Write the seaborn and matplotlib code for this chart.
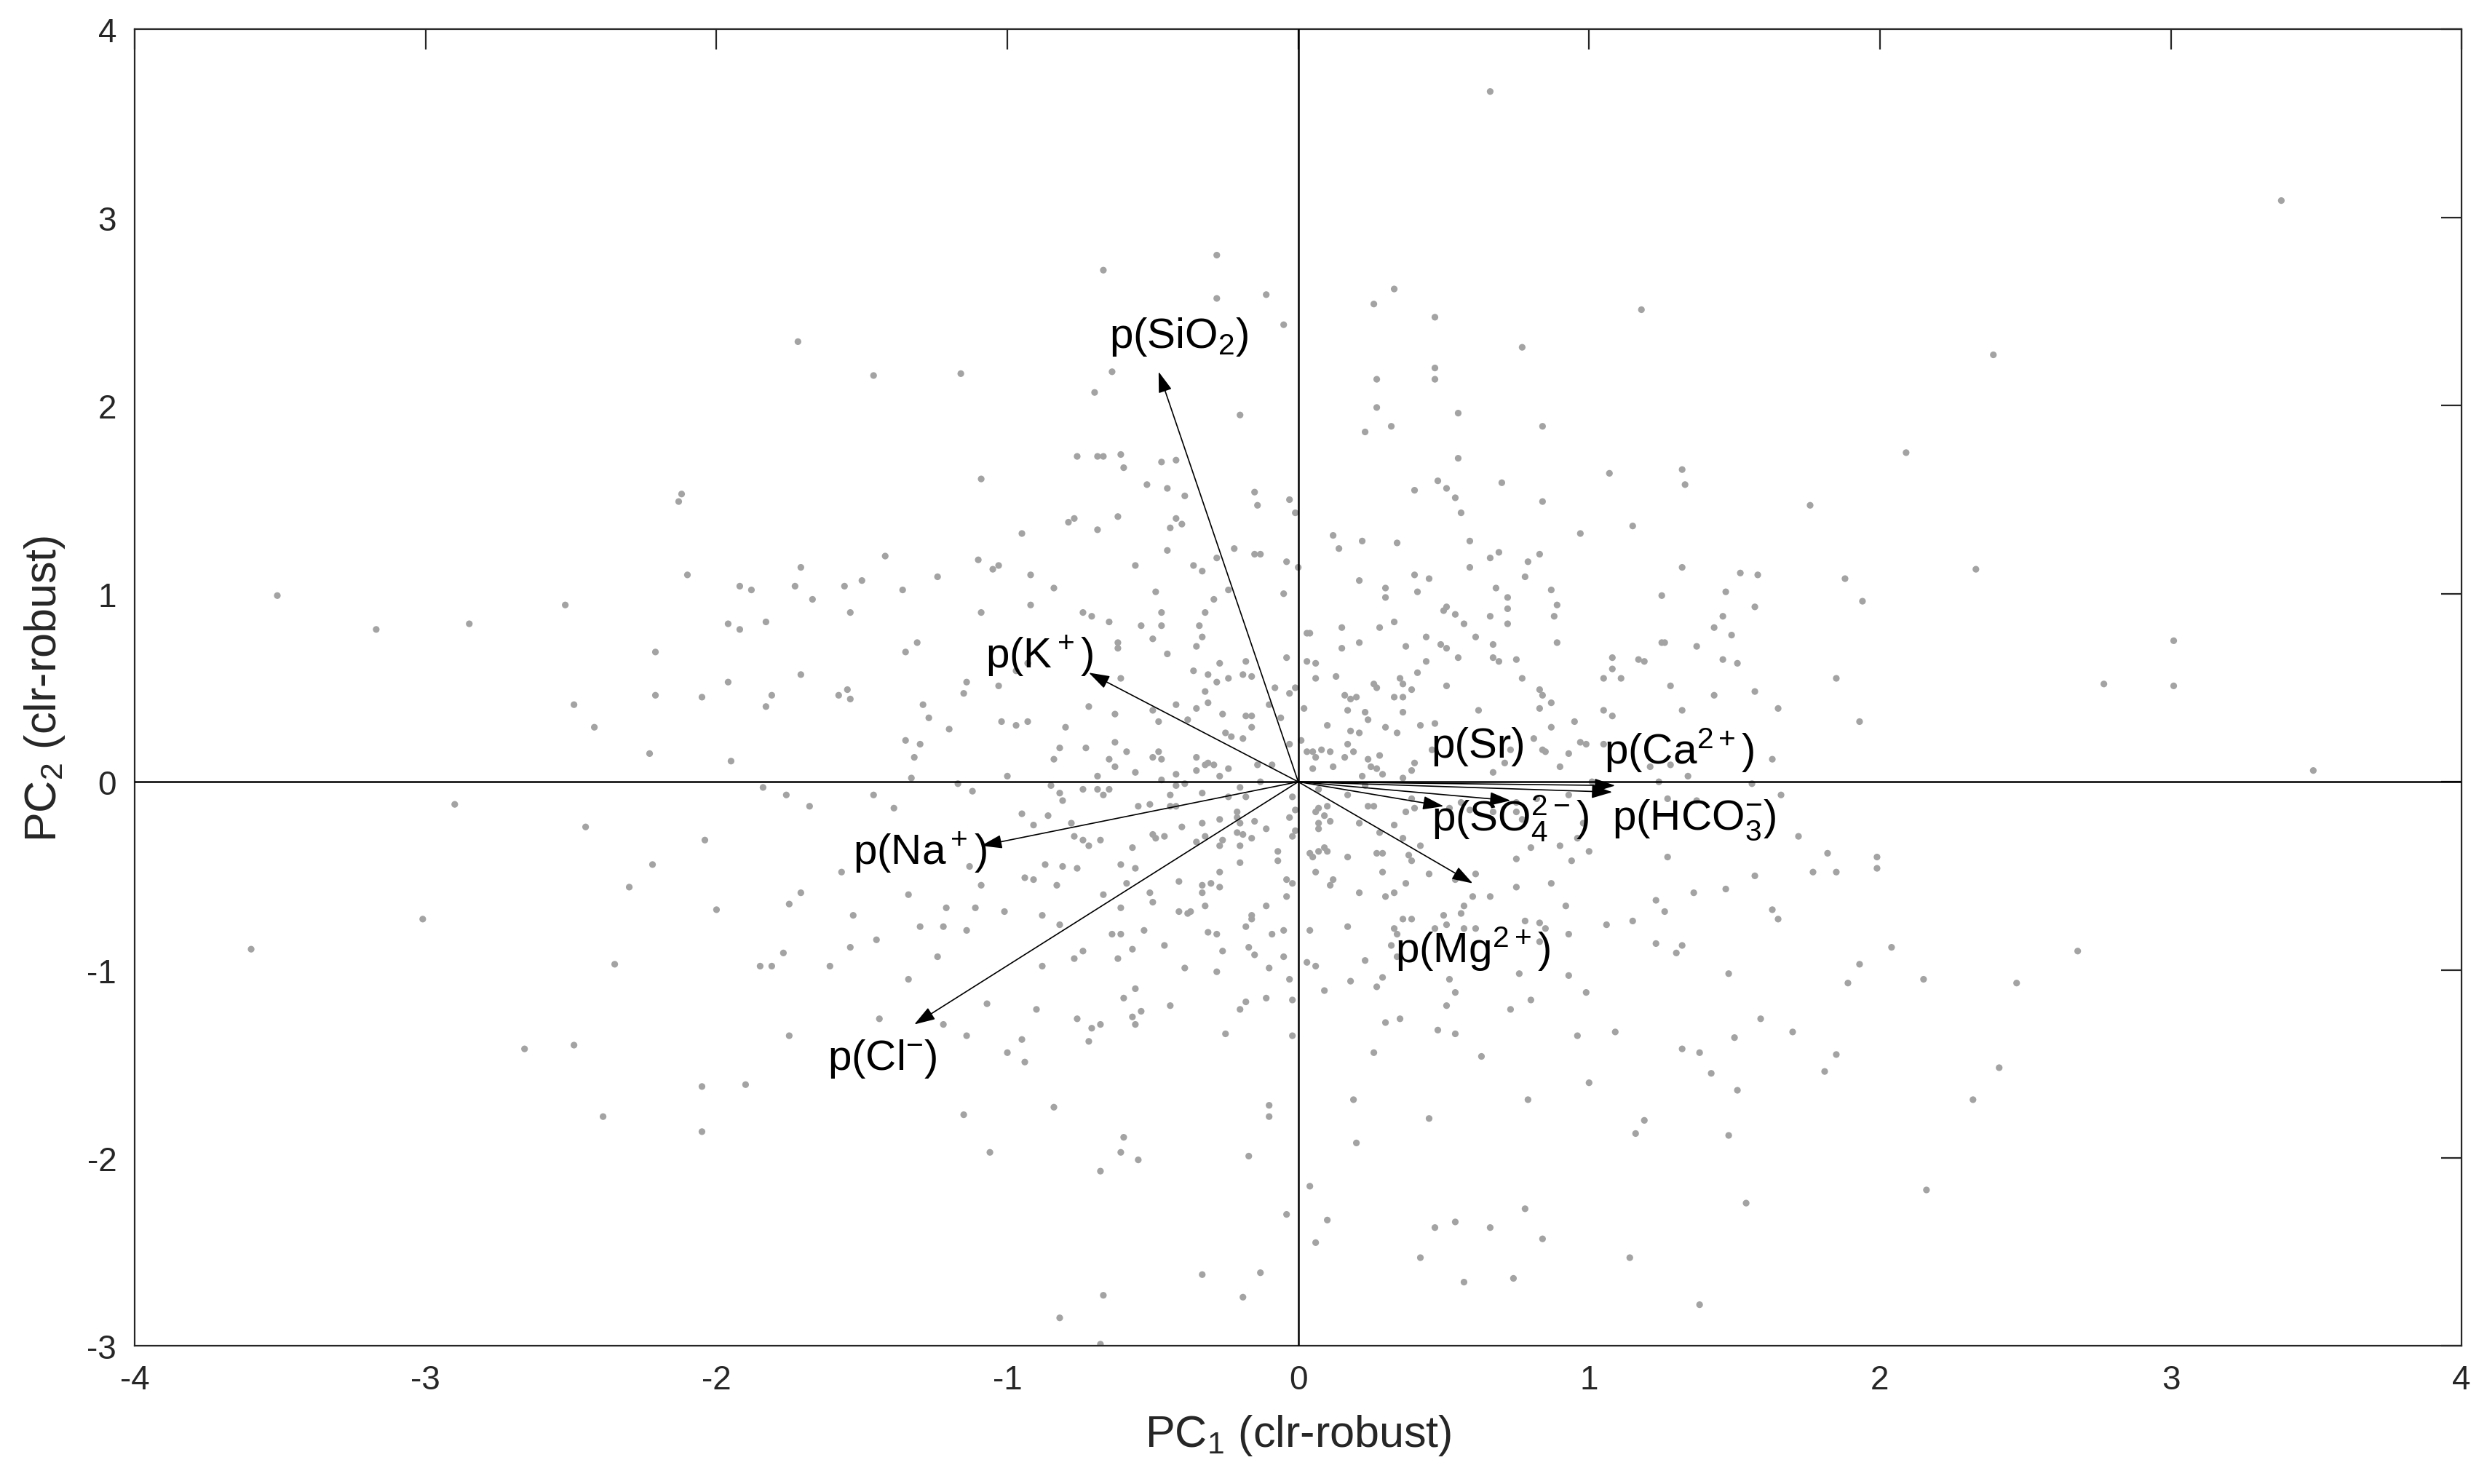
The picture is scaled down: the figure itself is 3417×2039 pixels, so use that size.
import matplotlib
matplotlib.use("Agg")
import matplotlib.pyplot as plt
import seaborn as sns
import pandas as pd

# ---- sample scores (PC1, PC2), grouped by region ----
upper_left = [(-0.67,2.72),(-1.72,2.34),(-1.46,2.16),(-1.16,2.17),(-0.70,2.07),(-0.76,1.73),(-0.69,1.73),(-0.67,1.73),
    (-1.09,1.61),(-0.77,1.40),(-0.79,1.38),(-0.69,1.34),(-0.95,1.32),(-1.42,1.20),(-1.10,1.18),(-1.05,1.13),(-1.03,1.15),
    (-0.92,1.10),(-1.71,1.14),(-1.92,1.04),(-1.88,1.02),(-1.73,1.04),(-1.56,1.04),(-1.50,1.07),(-1.36,1.02),(-1.24,1.09),
    (-0.84,1.03),(-1.67,0.97),(-1.54,0.90),(-1.09,0.90),(-0.92,0.94),(-0.74,0.90),(-0.71,0.88)]

upper_center = [(-0.28,2.80),(-0.28,2.57),(-0.11,2.59),(-0.05,2.43),(0.33,2.62),(0.26,2.54),(0.47,2.47),(-0.64,2.18),
    (0.47,2.20),(0.27,2.14),(0.47,2.14),(-0.20,1.95),(0.27,1.99),(0.55,1.96),(0.23,1.86),(0.32,1.89),(-0.61,1.74),(-0.60,1.67),
    (-0.47,1.70),(-0.42,1.71),(0.55,1.72),(-0.52,1.58),(-0.45,1.56),(-0.39,1.52),(-0.15,1.54),(-0.14,1.47),(-0.03,1.50),
    (-0.01,1.43),(0.48,1.60),(0.40,1.55),(0.51,1.56),(0.54,1.51),(0.56,1.43),(-0.62,1.41),(-0.42,1.40),(-0.40,1.37),(-0.44,1.35),
    (0.12,1.31),(0.14,1.24),(0.22,1.28),(0.34,1.27),(0.59,1.28),(0.59,1.14),(-0.45,1.23),(-0.56,1.15),(-0.36,1.15),(-0.33,1.12),
    (-0.28,1.19),(-0.22,1.24),(-0.15,1.21),(-0.13,1.21),(-0.04,1.17),(0.00,1.14),(0.21,1.07),(0.40,1.10),(0.45,1.08),(0.30,1.03),
    (0.41,1.01),(0.30,0.98),(-0.49,1.01),(-0.24,1.02),(-0.29,0.97),(-0.05,1.00),(-0.47,0.90),(-0.32,0.90),(0.51,0.93),(0.50,0.91),
    (0.54,0.89)]

upper_right = [(1.18,2.51),(0.77,2.31),(0.84,1.89),(0.70,1.59),(1.07,1.64),(1.32,1.66),(1.33,1.58),(1.76,1.47),(0.84,1.49),
    (0.97,1.32),(1.15,1.36),(0.66,1.19),(0.69,1.22),(0.79,1.17),(0.83,1.21),(0.78,1.09),(1.32,1.14),(1.52,1.11),(1.58,1.10),
    (1.88,1.08),(0.68,1.03),(0.72,0.98),(0.87,1.02),(0.89,0.94),(0.72,0.92),(1.25,0.99),(1.47,1.01),(1.57,0.93),(1.46,0.88),
    (0.66,0.88),(0.88,0.88),(1.94,0.96)]

middle_left = [(-1.83,0.85),(-1.92,0.81),(-1.96,0.84),(-1.96,0.53),(-1.71,0.57),(-1.81,0.46),(-1.83,0.40),(-1.58,0.46),
    (-1.55,0.49),(-1.54,0.44),(-1.31,0.74),(-1.35,0.69),(-1.14,0.53),(-1.15,0.47),(-1.03,0.51),(-0.97,0.59),(-0.93,0.63),
    (-1.29,0.41),(-1.27,0.34),(-1.20,0.28),(-1.02,0.32),(-0.97,0.30),(-0.93,0.32),(-0.80,0.29),(-0.72,0.40),(-1.35,0.22),
    (-1.30,0.20),(-1.32,0.13),(-0.82,0.18),(-0.73,0.18),(-0.84,0.12),(-1.95,0.11),(-1.33,0.02),(-1.17,-0.01),(-1.00,0.03),
    (-0.69,0.03),(-1.84,-0.03),(-1.76,-0.07),(-1.68,-0.13),(-1.46,-0.07),(-1.39,-0.14),(-1.12,-0.05),(-0.85,-0.02),(-0.82,-0.06),
    (-0.81,-0.10),(-0.74,-0.04),(-0.69,-0.04),(-0.67,-0.07),(-0.95,-0.17),(-0.86,-0.18),(-0.91,-0.23),(-0.78,-0.22),(-0.77,-0.29),
    (-0.74,-0.31),(-0.72,-0.34),(-0.68,-0.31),(-1.13,-0.45),(-0.87,-0.44),(-0.81,-0.45),(-0.76,-0.46),(-0.94,-0.51),(-0.91,-0.52),
    (-0.83,-0.55),(-1.09,-0.55),(-1.57,-0.48),(-1.71,-0.59),(-1.75,-0.65),(-1.34,-0.60),(-1.21,-0.67),(-1.11,-0.67),(-1.01,-0.69),
    (-0.88,-0.71),(-0.67,-0.60),(-1.53,-0.71),(-1.30,-0.77),(-1.22,-0.77),(-1.14,-0.79),(-0.82,-0.76),(-1.45,-0.84),(-1.54,-0.88),
    (-1.77,-0.91),(-1.85,-0.98),(-1.81,-0.98),(-1.61,-0.98),(-1.24,-0.93),(-0.74,-0.90),(-0.77,-0.94),(-0.88,-0.98),(-1.34,-1.05)]

middle_center = [(-0.65,0.85),(-0.54,0.83),(-0.47,0.83),(-0.34,0.83),(-0.50,0.76),(-0.33,0.77),(-0.62,0.74),(-0.62,0.71),
    (-0.35,0.72),(-0.45,0.68),(-0.27,0.63),(-0.18,0.64),(-0.04,0.66),(0.03,0.79),(0.04,0.79),(0.15,0.82),(0.28,0.82),(0.33,0.85),
    (0.21,0.74),(0.15,0.71),(0.44,0.77),(0.37,0.72),(0.49,0.73),(0.51,0.71),(0.57,0.84),(0.61,0.77),(0.55,0.66),(0.44,0.64),
    (0.41,0.58),(0.03,0.64),(0.06,0.63),(-0.61,0.55),(-0.36,0.59),(-0.31,0.57),(-0.28,0.53),(-0.24,0.55),(-0.19,0.57),(-0.16,0.56),
    (0.06,0.55),(0.13,0.56),(0.26,0.52),(0.27,0.50),(0.35,0.55),(0.36,0.52),(0.39,0.49),(0.51,0.51),(-0.08,0.50),(-0.01,0.50),
    (-0.03,0.47),(-0.32,0.48),(-0.31,0.42),(-0.42,0.41),(-0.35,0.39),(-0.50,0.38),(-0.63,0.36),(-0.48,0.32),(-0.26,0.36),
    (-0.18,0.35),(-0.16,0.35),(-0.10,0.41),(-0.06,0.34),(0.02,0.39),(0.16,0.46),(0.18,0.44),(0.20,0.45),(0.33,0.45),(0.36,0.45),
    (0.17,0.38),(0.23,0.37),(0.24,0.33),(0.36,0.37),(0.62,0.38),(0.10,0.30),(0.30,0.29),(0.34,0.26),(0.18,0.27),(0.21,0.26),
    (0.42,0.30),(0.47,0.31),(-0.25,0.26),(-0.23,0.24),(-0.19,0.23),(-0.16,0.29),(-0.38,0.33),(-0.63,0.21),(-0.59,0.16),(-0.48,0.16),
    (-0.50,0.13),(-0.47,0.12),(-0.65,0.12),(-0.63,0.08),(-0.56,0.05),(-0.35,0.13),(-0.35,0.06),(-0.32,0.09),(-0.31,0.10),
    (-0.29,0.09),(-0.24,0.07),(-0.27,0.03),(-0.42,0.04),(-0.47,0.01),(-0.14,0.09),(-0.09,0.09),(-0.03,0.20),(0.01,0.22),(0.17,0.20),
    (0.19,0.16),(0.03,0.16),(0.05,0.16),(0.08,0.17),(0.11,0.16),(0.06,0.13),(0.16,0.13),(0.24,0.12),(0.28,0.14),(0.40,0.10),
    (0.46,0.17),(0.05,0.07),(0.12,0.08),(0.25,0.08),(0.27,0.07),(0.29,0.04),(0.39,0.06),(0.22,0.03),(0.36,0.02),(-0.13,0.00),
    (-0.65,-0.04),(-0.42,-0.02),(-0.39,-0.01),(-0.20,-0.03),(-0.33,-0.06),(-0.44,-0.07),(-0.18,-0.08),(-0.24,-0.08),(-0.02,-0.08),
    (0.07,-0.04),(0.17,-0.07),(0.23,-0.02),(-0.55,-0.13),(-0.51,-0.12),(-0.44,-0.13),(-0.42,-0.13),(-0.21,-0.16),(-0.21,-0.19),
    (-0.20,-0.22),(-0.15,-0.21),(-0.27,-0.20),(-0.33,-0.22),(-0.40,-0.24),(-0.03,-0.19),(-0.01,-0.15),(0.07,-0.14),(0.06,-0.16),
    (0.09,-0.18),(0.10,-0.13),(0.11,-0.21),(0.07,-0.22),(0.07,-0.25),(0.21,-0.22),(0.24,-0.13),(0.26,-0.13),(0.33,-0.23),
    (0.37,-0.16),(0.40,-0.14),(0.39,-0.09),(0.52,-0.14),(0.56,-0.11),(0.59,-0.15),(0.36,-0.30),(0.42,-0.34),(0.28,-0.27),
    (-0.50,-0.28),(-0.49,-0.30),(-0.46,-0.29),(-0.21,-0.27),(-0.19,-0.28),(-0.16,-0.30),(-0.11,-0.25),(-0.01,-0.26),(-0.02,-0.29),
    (-0.32,-0.29),(-0.35,-0.32),(-0.26,-0.31),(-0.27,-0.34),(-0.20,-0.34),(-0.57,-0.35),(-0.07,-0.37),(-0.07,-0.42),(0.04,-0.38),
    (0.05,-0.40),(0.07,-0.37),(0.09,-0.35),(0.10,-0.37),(0.17,-0.40),(0.27,-0.38),(0.29,-0.38),(0.38,-0.39),(0.39,-0.42),
    (-0.61,-0.44),(-0.56,-0.46),(-0.20,-0.43),(-0.27,-0.48),(0.06,-0.48),(0.29,-0.48),(0.45,-0.49),(0.61,-0.49),(-0.59,-0.54),
    (-0.41,-0.53),(-0.33,-0.55),(-0.30,-0.54),(-0.27,-0.56),(-0.04,-0.52),(-0.02,-0.54),(0.12,-0.52),(0.11,-0.55),(0.37,-0.54),
    (0.54,-0.52),(-0.51,-0.59),(-0.33,-0.59),(-0.50,-0.64),(-0.04,-0.61),(0.21,-0.59),(0.30,-0.61),(0.33,-0.59),(0.60,-0.61),
    (-0.61,-0.67),(-0.32,-0.66),(-0.11,-0.66),(0.57,-0.66),(0.56,-0.70),(-0.41,-0.69),(-0.38,-0.70),(-0.37,-0.69),(-0.16,-0.71),
    (-0.16,-0.73),(0.36,-0.73),(0.39,-0.73),(0.50,-0.71),(0.51,-0.76),(-0.53,-0.79),(-0.64,-0.81),(-0.61,-0.81),(-0.18,-0.77),
    (-0.31,-0.80),(-0.28,-0.81),(-0.09,-0.81),(-0.05,-0.79),(0.04,-0.79),(0.17,-0.77),(0.33,-0.78),(0.34,-0.81),(0.47,-0.78),
    (0.57,-0.78),(0.61,-0.78),(0.32,-0.87),(-0.46,-0.87),(-0.57,-0.89),(-0.26,-0.90),(-0.17,-0.88),(-0.15,-0.92),(-0.05,-0.93),
    (-0.62,-0.94),(0.34,-0.93),(0.23,-0.95),(-0.39,-0.99),(-0.28,-1.01),(-0.10,-0.99),(0.03,-0.96),(0.06,-0.98),(-0.03,-1.05),
    (0.29,-1.04),(0.52,-1.05),(0.18,-1.06)]

middle_right = [(0.72,0.84),(0.89,0.74),(0.67,0.73),(0.67,0.66),(0.69,0.64),(0.75,0.65),(0.77,0.55),(0.83,0.49),(0.84,0.46),
    (0.87,0.42),(0.83,0.39),(0.87,0.29),(0.95,0.32),(0.81,0.23),(0.84,0.17),(0.85,0.16),(0.93,0.15),(0.97,0.21),(0.99,0.20),
    (1.05,0.20),(0.90,0.08),(0.71,0.10),(0.67,0.05),(0.73,0.17),(1.08,0.66),(1.08,0.60),(1.05,0.55),(1.11,0.55),(1.17,0.65),
    (1.19,0.64),(1.25,0.74),(1.26,0.74),(1.37,0.72),(1.43,0.82),(1.49,0.78),(1.46,0.65),(1.51,0.63),(1.28,0.51),(1.43,0.46),
    (1.57,0.48),(1.65,0.39),(1.32,0.38),(1.05,0.38),(1.08,0.35),(1.85,0.55),(1.93,0.32),(1.63,0.12),(1.21,0.08),(1.28,0.09),
    (1.34,0.03),(1.24,0.00),(1.01,0.00),(1.56,-0.01),(1.66,-0.07),(0.93,-0.07),(0.82,-0.09),(0.75,-0.11),(0.67,-0.16),(0.75,-0.16),
    (0.77,-0.20),(0.98,-0.22),(0.96,-0.30),(1.00,-0.37),(0.90,-0.34),(0.80,-0.35),(0.75,-0.41),(0.94,-0.42),(1.27,-0.09),
    (1.37,-0.10),(1.72,-0.29),(1.82,-0.38),(1.77,-0.48),(1.85,-0.48),(1.27,-0.40),(1.57,-0.50),(0.87,-0.54),(0.75,-0.56),
    (0.66,-0.61),(1.47,-0.57),(1.36,-0.59),(1.23,-0.63),(1.26,-0.69),(1.63,-0.68),(1.65,-0.73),(0.92,-0.66),(1.15,-0.74),
    (1.06,-0.76),(0.78,-0.74),(0.83,-0.75),(0.85,-0.78),(0.93,-0.81),(0.83,-0.85),(1.23,-0.86),(1.32,-0.87),(1.30,-0.91),
    (1.93,-0.97),(1.48,-1.02),(0.76,-1.02),(0.93,-1.03),(1.89,-1.07)]

lower_left = [(-1.07,-1.18),(-0.90,-1.21),(-0.76,-1.26),(-0.71,-1.31),(-0.68,-1.29),(-0.72,-1.38),(-1.44,-1.26),(-1.22,-1.29),
    (-1.14,-1.35),(-0.95,-1.37),(-1.00,-1.44),(-0.94,-1.49),(-1.75,-1.35),(-1.90,-1.61),(-1.15,-1.77),(-0.84,-1.73),(-1.06,-1.97),
    (-0.68,-2.07),(-0.67,-2.73),(-0.82,-2.85),(-0.68,-2.99)]

lower_center = [(-0.56,-1.10),(-0.60,-1.15),(-0.54,-1.22),(-0.57,-1.25),(-0.56,-1.29),(-0.44,-1.19),(-0.20,-1.21),(-0.18,-1.17),
    (-0.11,-1.15),(-0.02,-1.16),(-0.25,-1.34),(-0.02,-1.35),(0.09,-1.11),(0.27,-1.09),(0.54,-1.12),(0.51,-1.19),(0.30,-1.28),
    (0.35,-1.26),(0.48,-1.32),(0.54,-1.34),(0.26,-1.44),(0.63,-1.46),(-0.10,-1.72),(-0.10,-1.78),(-0.60,-1.89),(-0.61,-1.97),
    (-0.55,-2.01),(-0.17,-1.99),(0.19,-1.69),(0.45,-1.79),(0.20,-1.92),(0.04,-2.15),(-0.04,-2.30),(0.10,-2.33),(0.06,-2.45),
    (0.47,-2.37),(0.54,-2.34),(0.42,-2.53),(0.57,-2.66),(-0.33,-2.62),(-0.13,-2.61),(-0.19,-2.74)]

lower_right = [(0.73,-1.21),(0.80,-1.16),(0.99,-1.12),(0.96,-1.35),(1.09,-1.33),(1.59,-1.26),(1.70,-1.33),(1.50,-1.36),
    (1.32,-1.42),(1.38,-1.44),(1.85,-1.45),(1.81,-1.54),(1.42,-1.55),(1.51,-1.64),(1.00,-1.60),(0.79,-1.69),(1.19,-1.80),
    (1.16,-1.87),(1.48,-1.88),(1.54,-2.24),(0.78,-2.27),(0.66,-2.37),(0.84,-2.43),(1.14,-2.53),(0.74,-2.64),(1.38,-2.78)]

outer_left = [(-3.51,0.99),(-3.17,0.81),(-2.85,0.84),(-2.90,-0.12),(-3.01,-0.73),(-3.60,-0.89),(-2.66,-1.42),(-2.39,-1.78),
    (-2.49,-1.40),(-2.35,-0.97),(-2.45,-0.24),(-2.52,0.94),(-2.49,0.41),(-2.42,0.29),(-2.30,-0.56),(-2.22,-0.44),(-2.23,0.15),
    (-2.21,0.46),(-2.21,0.69),(-2.13,1.49),(-2.12,1.53),(-2.10,1.10),(-2.05,0.45),(-2.04,-0.31),(-2.00,-0.68),(-2.05,-1.62),
    (-2.05,-1.86)]

outer_right = [(2.09,1.75),(2.39,2.27),(2.33,1.13),(3.38,3.09),(3.01,0.75),(3.01,0.51),(2.77,0.52),(3.49,0.06),(2.68,-0.90),
    (2.47,-1.07),(2.41,-1.52),(2.32,-1.69),(2.16,-2.17),(2.15,-1.05),(2.04,-0.88),(1.99,-0.40),(1.99,-0.46),(0.66,3.67)]

# ---- variable loadings (arrow tips) and label positions ----
var_labels = ['p(SiO$_2$)', 'p(K$^+$)', 'p(Na$^+$)', 'p(Cl$^{-}$)', 'p(Sr)',
              'p(SO$_4^{2-}$)', 'p(Mg$^{2+}$)', 'p(Ca$^{2+}$)', 'p(HCO$_3^{-}$)']
load_pc1 = [-0.48, -0.72, -1.09, -1.32, 0.50, 0.73, 0.60, 1.09, 1.08]
load_pc2 = [2.18, 0.58, -0.34, -1.29, -0.13, -0.10, -0.54, -0.02, -0.055]
label_pc1 = [-0.41, -0.89, -1.30, -1.43, 0.62, 0.73, 0.60, 1.31, 1.36]
label_pc2 = [2.37, 0.675, -0.37, -1.47, 0.19, -0.19, -0.885, 0.17, -0.20]

x_ticks = [-4, -3, -2, -1, 0, 1, 2, 3, 4]
y_ticks = [-3, -2, -1, 0, 1, 2, 3, 4]

# ---- build table ----
regions = [upper_left, upper_center, upper_right, middle_left, middle_center, middle_right,
           lower_left, lower_center, lower_right, outer_left, outer_right]
pts = [p for r in regions for p in r]
df = pd.DataFrame(pts, columns=['PC1', 'PC2'])

sns.set_style('white')
plt.rcParams['font.family'] = ['Liberation Sans', 'DejaVu Sans']
plt.rcParams['mathtext.fontset'] = 'custom'
plt.rcParams['mathtext.rm'] = 'Liberation Sans'
plt.rcParams['mathtext.it'] = 'Liberation Sans'
plt.rcParams['mathtext.default'] = 'regular'
plt.rcParams['axes.unicode_minus'] = False

fig = plt.figure(figsize=(17.085, 10.2), dpi=200)
ax = fig.add_axes([0.0542, 0.0929, 0.9356, 0.8868])

sns.scatterplot(data=df, x='PC1', y='PC2', color='#a3a3a3', s=11, linewidth=0,
                edgecolor='none', ax=ax, legend=False, zorder=2)

ax.axhline(0, color='black', lw=0.9, zorder=3)
ax.axvline(0, color='black', lw=0.9, zorder=3)

for lx, ly in zip(load_pc1, load_pc2):
    ax.annotate('', xy=(lx, ly), xytext=(0, 0),
                arrowprops=dict(arrowstyle='-|>,head_length=0.55,head_width=0.18',
                                color='black', lw=0.6, mutation_scale=16,
                                shrinkA=0, shrinkB=0), zorder=4)

for t, tx, ty in zip(var_labels, label_pc1, label_pc2):
    ax.text(tx, ty, t, ha='center', va='center', fontsize=21, color='black', zorder=5)

ax.set_xlim(-4, 4)
ax.set_ylim(-3, 4)
ax.set_xticks(x_ticks)
ax.set_yticks(y_ticks)
ax.set_xticklabels([str(v) for v in x_ticks])
ax.set_yticklabels([str(v) for v in y_ticks])
ax.tick_params(direction='in', length=10, width=0.8, top=True, right=True,
               labelsize=16.5, colors='#262626', pad=9)
for s in ax.spines.values():
    s.set_color('#262626')
    s.set_linewidth(0.8)
    s.set_visible(True)

ax.set_xlabel('PC$_1$ (clr-robust)', fontsize=22, color='#262626', labelpad=8)
ax.set_ylabel('PC$_2$ (clr-robust)', fontsize=22, color='#262626', labelpad=10)

fig.savefig('out.png', dpi=200, facecolor='white')
